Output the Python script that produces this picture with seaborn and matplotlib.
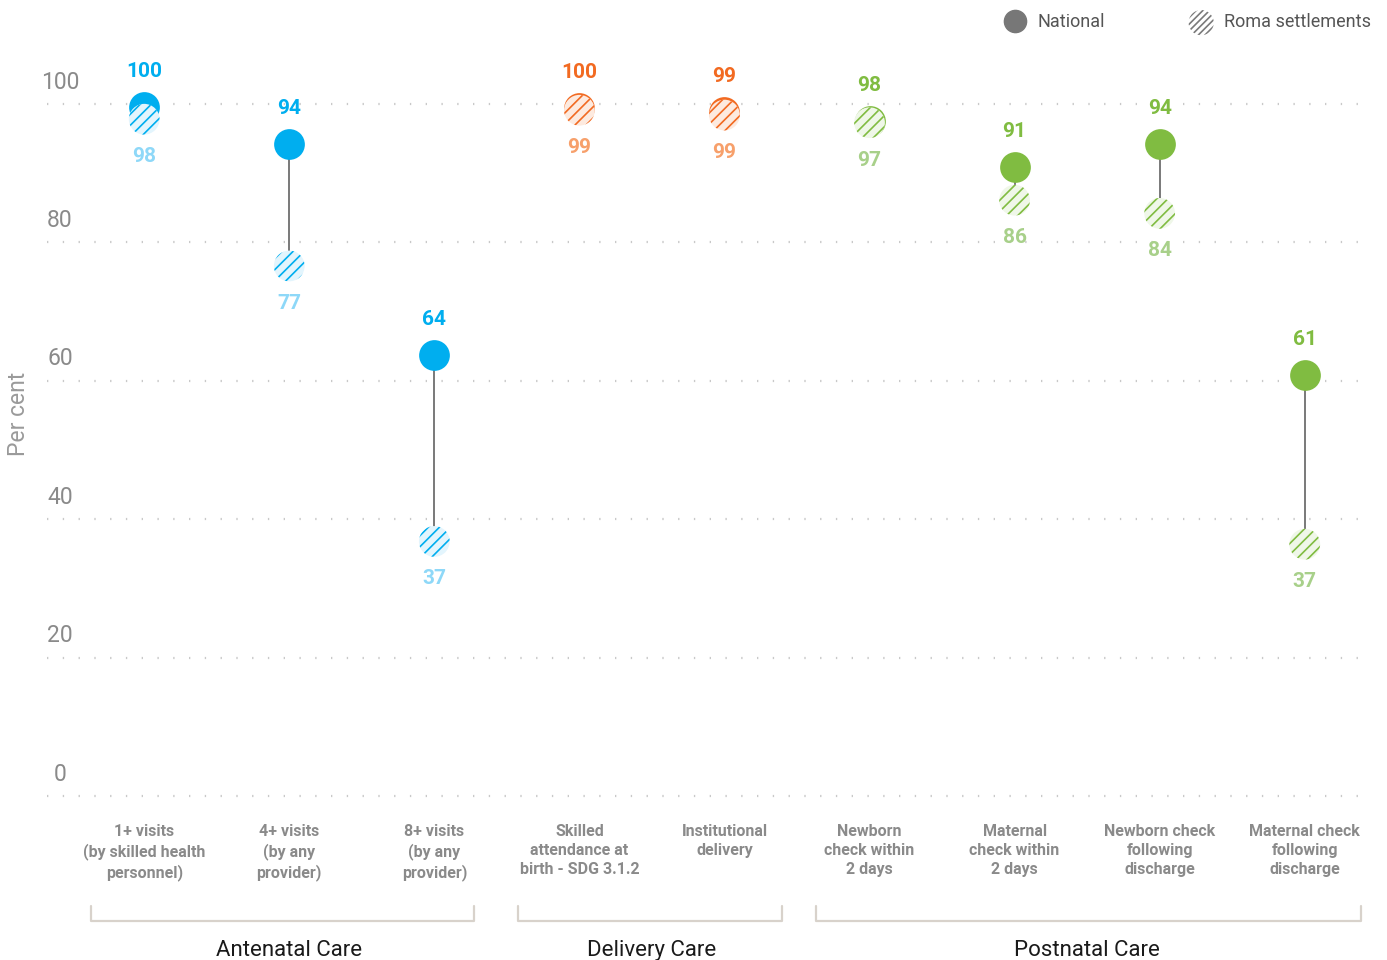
import numpy as np
import pandas as pd
import matplotlib.pyplot as plt
import seaborn as sns
from matplotlib.lines import Line2D

# data
indicators = [
    '1+ visits\n(by skilled health\npersonnel)',
    '4+ visits\n(by any\nprovider)',
    '8+ visits\n(by any\nprovider)',
    'Skilled\nattendance at\nbirth - SDG 3.1.2',
    'Institutional\ndelivery',
    'Newborn\ncheck within\n2 days',
    'Maternal\ncheck within\n2 days',
    'Newborn check\nfollowing\ndischarge',
    'Maternal check\nfollowing\ndischarge',
]
groups = ['Antenatal Care'] * 3 + ['Delivery Care'] * 2 + ['Postnatal Care'] * 4
# plotted positions (unrounded, estimated from the dots)
national = [99.6, 94.2, 63.7, 99.4, 98.8, 97.5, 90.9, 94.2, 60.8]
roma = [97.8, 76.6, 36.8, 99.1, 98.4, 97.3, 86.1, 84.2, 36.4]
# printed labels
national_lbl = ['100', '94', '64', '100', '99', '98', '91', '94', '61']
roma_lbl = ['98', '77', '37', '99', '99', '97', '86', '84', '37']
group_names = ['Antenatal Care', 'Delivery Care', 'Postnatal Care']
y_ticks = [0, 20, 40, 60, 80, 100]

# colours per group
main_col = {'Antenatal Care': '#00aeef', 'Delivery Care': '#f26a21', 'Postnatal Care': '#80bc41'}
pale_col = {'Antenatal Care': '#e3f5fd', 'Delivery Care': '#fdeadf', 'Postnatal Care': '#eff7e8'}
light_col = {'Antenatal Care': '#8ed8f8', 'Delivery Care': '#f7a06b', 'Postnatal Care': '#a8d08a'}
# bracket overhang left/right of first/last dot
bracket_pad = {'Antenatal Care': (0.365, 0.275), 'Delivery Care': (0.42, 0.40),
               'Postnatal Care': (0.37, 0.39)}

df = pd.DataFrame({'indicator': indicators, 'group': groups,
                   'national': national, 'roma': roma,
                   'nat_lbl': national_lbl, 'roma_lbl': roma_lbl})
df['pos'] = np.arange(len(df))

sns.set_style('white')
plt.rcParams['font.family'] = ['Roboto', 'DejaVu Sans']
plt.rcParams['hatch.linewidth'] = 1.2

fig = plt.figure(figsize=(13.87, 9.6), dpi=100)
ax = fig.add_axes([47 / 1387, 0.15625, 1323 / 1387, 0.7931])

# connector lines between national and roma
ax.vlines(df['pos'], df['roma'], df['national'], color='#6e6e6e', lw=1.3, zorder=1)

msize = 490
for g in group_names:
    sub = df[df['group'] == g]
    sns.scatterplot(data=sub, x='pos', y='national', color=main_col[g], s=msize,
                    linewidth=0, ax=ax, zorder=3, legend=False, clip_on=False)
    sns.scatterplot(data=sub, x='pos', y='roma', color=pale_col[g], edgecolor=main_col[g],
                    linewidth=0, hatch='///', s=msize, ax=ax, zorder=4, legend=False,
                    clip_on=False)
    for _, r in sub.iterrows():
        ax.annotate(r['nat_lbl'], (r['pos'], r['national']), xytext=(0, 25.5),
                    textcoords='offset points', ha='center', va='center',
                    fontsize=15, fontweight='bold', color=main_col[g])
        ax.annotate(r['roma_lbl'], (r['pos'], r['roma']), xytext=(0, -27),
                    textcoords='offset points', ha='center', va='center',
                    fontsize=15, fontweight='bold', color=light_col[g])

ax.set_xlim(-0.67, 8.45)
ax.set_ylim(-2, 108)
ax.set_yticks(y_ticks)
ax.set_yticklabels([])
ax.yaxis.grid(True, ls=(0, (0.6, 6.5)), lw=1.6, color='#c9c9c9')
ax.xaxis.grid(False)
for v in y_ticks:
    ax.text(-0.58, v + 1.5, str(v), ha='center', va='bottom', fontsize=16.5,
            color='#8a8a8a')

ax.set_xticks(df['pos'])
ax.set_xticklabels(df['indicator'], fontweight='bold', linespacing=1.33)
ax.tick_params(axis='x', length=0, pad=10, labelsize=11.5, labelcolor='#8a8a8a')
ax.tick_params(axis='y', length=0)
ax.set_xlabel('')
ax.set_ylabel('Per cent', fontsize=16.5, color='#9a9a9a')
ax.yaxis.set_label_coords(-0.0125, 0.52)
sns.despine(ax=ax, left=True, bottom=True)

# group brackets under the tick labels
trans = ax.get_xaxis_transform()
for g in group_names:
    p = df.loc[df['group'] == g, 'pos']
    x0, x1 = p.min() - bracket_pad[g][0], p.max() + bracket_pad[g][1]
    ax.plot([x0, x0, x1, x1], [-0.126, -0.1458, -0.1458, -0.126], transform=trans,
            clip_on=False, color='#d8d2cb', lw=1.6)
    ax.text((p.min() + p.max()) / 2, -0.185, g, transform=trans, ha='center',
            va='center', fontsize=16, color='#1a1a1a')

nat_handle = Line2D([], [], marker='o', ls='', color='#777777', markersize=16)
roma_handle = ax.scatter([], [], s=330, facecolor='white', edgecolor='#7a7a7a',
                         linewidth=0, hatch='/////')
fig.legend([nat_handle, roma_handle], ['National', 'Roma settlements'], loc='upper right',
           bbox_to_anchor=(1.0, 1.003), ncol=2, frameon=False, columnspacing=4.7,
           handletextpad=0.6, handlelength=1.3, fontsize=13, labelcolor='#555555')

fig.savefig('out.png', dpi=100)
